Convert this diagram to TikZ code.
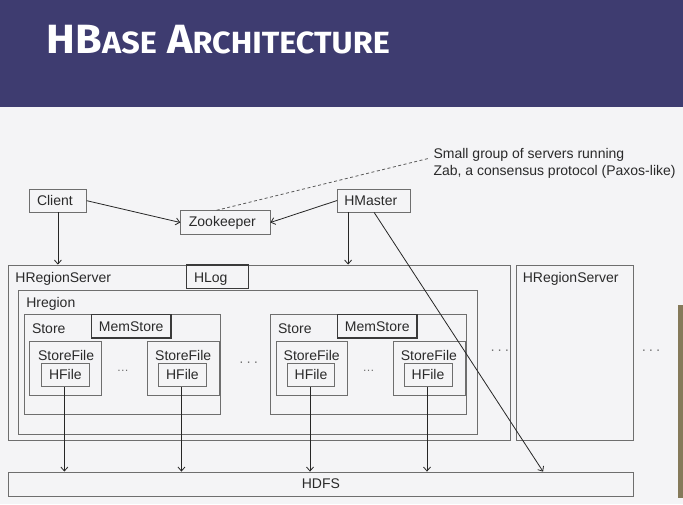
\documentclass[tikz,border=0pt]{standalone}
\usepackage{fontspec}
\setmainfont{Liberation Sans}
\newfontfamily\titlefont{Fira Sans}
\usetikzlibrary{arrows.meta,fit}
\definecolor{hdr}{HTML}{3E3C70}
\definecolor{bg}{HTML}{F4F4F6}
\definecolor{boxc}{HTML}{6E6E6E}
\definecolor{dboxc}{HTML}{3A3A3A}
\definecolor{txt}{HTML}{2A2A2A}
\definecolor{strip}{HTML}{857A5A}
\begin{document}
\begin{tikzpicture}[x=1pt,y=-1pt,
  font=\fontsize{14}{16}\selectfont,
  box/.style={draw=boxc, line width=0.8pt, inner sep=0pt, text=txt},
  dbox/.style={draw=dboxc, line width=1.1pt, inner sep=0pt, text=txt},
  lbl/.style={anchor=base west, inner sep=0pt, text=txt},
  ctr/.style={label={[inner sep=0pt, text=txt]center:#1}},
  ctrl/.style={label={[inner sep=0pt, text=txt, xshift=-3pt]center:#1}},
  dotsl/.style={inner sep=0pt, text=boxc},
  arr/.style={draw=black!85, line width=0.8pt, -{Straight Barb[length=4pt,width=7pt]}},
  dashln/.style={draw=black!65, line width=0.8pt, dash pattern=on 3pt off 2.5pt}
]
% background and header
\fill[bg] (0,0) rectangle (683,504);
\fill[hdr] (0,0) rectangle (683,107);
\fill[strip] (678.3,305) rectangle (683,498);
\node[anchor=north west, inner sep=0pt, text=white] (title) at (46.6,25)
  {\resizebox{343pt}{28.3pt}{\titlefont\bfseries\fontsize{40}{40}\selectfont
   H{}B{\fontsize{30}{30}\selectfont ASE} A{\fontsize{30}{30}\selectfont RCHITECTURE}}};

% top row
\node[box, fit={(29.6,189.3) (86.2,212)}, ctrl=Client] (client) {};
\node[box, fit={(180.7,210.7) (270,234.3)}, ctrl=Zookeeper] (zk) {};
\node[box, fit={(337.5,189) (410,212)}, ctrl=HMaster] (hmaster) {};
\node[anchor=base west, inner sep=0pt, text=txt] (note) at (433.4,158.5)
  {Small group of servers running};
\node[anchor=base west, inner sep=0pt, text=txt] (note2) at (433.4,175.2)
  {Zab, a consensus protocol (Paxos-like)};
\coordinate (notept) at (429,158.3);

% region servers
\node[box, fit={(8,265) (510.5,440)}] (hrs) {};
\node[lbl] (hrsl) at (15.2,282.7) {HRegionServer};
\node[dbox, fit={(186.4,265) (248.3,288.3)}] (hlog) {};
\node[lbl] (hlogl) at (193.8,282.7) {HLog};
\node[box, fit={(18.3,290) (477.4,434)}] (hregion) {};
\node[lbl] (hregionl) at (26.1,307.2) {Hregion};

% store 1
\node[box, fit={(24.4,314) (220,414)}] (store1) {};
\node[lbl] (store1l) at (31.8,333.3) {Store};
\node[dbox, fit={(91.5,314.5) (171,338)}, ctr=MemStore] (mem1) {};
\node[box, fit={(29.6,341.7) (101.5,395.7)}] (sf1) {};
\node[lbl] (sf1l) at (37.9,360) {StoreFile};
\node[box, fit={(41.4,363) (89.3,386.7)}, ctr=HFile] (hf1) {};
\node[box, fit={(147,341.7) (219,395.7)}] (sf2) {};
\node[lbl] (sf2l) at (155,360) {StoreFile};
\node[box, fit={(158.5,363) (206.4,386.7)}, ctr=HFile] (hf2) {};
\node[dotsl, anchor=base] (d1) at (122.8,371) {\fontsize{12}{12}\selectfont …};

% store 2
\node[box, fit={(270.5,314) (466.5,414)}] (store2) {};
\node[lbl] (store2l) at (277.9,333.3) {Store};
\node[dbox, fit={(337.5,314.5) (417,338)}, ctr=MemStore] (mem2) {};
\node[box, fit={(276,341.7) (347,395.7)}] (sf3) {};
\node[lbl] (sf3l) at (283.5,360) {StoreFile};
\node[box, fit={(287.5,363) (334.5,386.7)}, ctr=HFile] (hf3) {};
\node[box, fit={(393,341.7) (465,395.7)}] (sf4) {};
\node[lbl] (sf4l) at (400.7,360) {StoreFile};
\node[box, fit={(404,363) (452,386.7)}, ctr=HFile] (hf4) {};
\node[dotsl, anchor=base] (d2) at (368.7,371) {\fontsize{12}{12}\selectfont …};

% spaced dots
\node[dotsl] (d3) at (248.7,364) {·\hspace{2.5pt}·\hspace{2.5pt}·};
\node[dotsl] (d4) at (499.8,352) {·\hspace{2.5pt}·\hspace{2.5pt}·};
\node[dotsl] (d5) at (651,352) {·\hspace{2.5pt}·\hspace{2.5pt}·};

% second region server
\node[box, fit={(516.5,265) (633.7,440)}] (hrs2) {};
\node[lbl] (hrs2l) at (522.6,282.7) {HRegionServer};

% HDFS
\node[box, fit={(8,472) (633.7,496)}, ctr=HDFS] (hdfs) {};

% connectors
\draw[dashln] ([xshift=-8.8pt]zk.north) -- (notept);
\draw[arr] (client.east) -- (zk.west);
\draw[arr] (hmaster.west) -- (zk.east);
\draw[arr] (client.south) -- (client.south |- hrs.north);
\draw[arr] ([xshift=11pt]hmaster.south west) coordinate (hmd) -- (hmd |- hrs.north);
\draw[arr] ([xshift=37pt]hmaster.south west) -- ([xshift=535.5pt]hdfs.north west);
\draw[arr] ([xshift=-1pt]hf1.south) coordinate (a1) -- (a1 |- hdfs.north);
\draw[arr] ([xshift=-1pt]hf2.south) coordinate (a2) -- (a2 |- hdfs.north);
\draw[arr] ([xshift=-1pt]hf3.south) coordinate (a3) -- (a3 |- hdfs.north);
\draw[arr] ([xshift=-1pt]hf4.south) coordinate (a4) -- (a4 |- hdfs.north);
\end{tikzpicture}
\end{document}
